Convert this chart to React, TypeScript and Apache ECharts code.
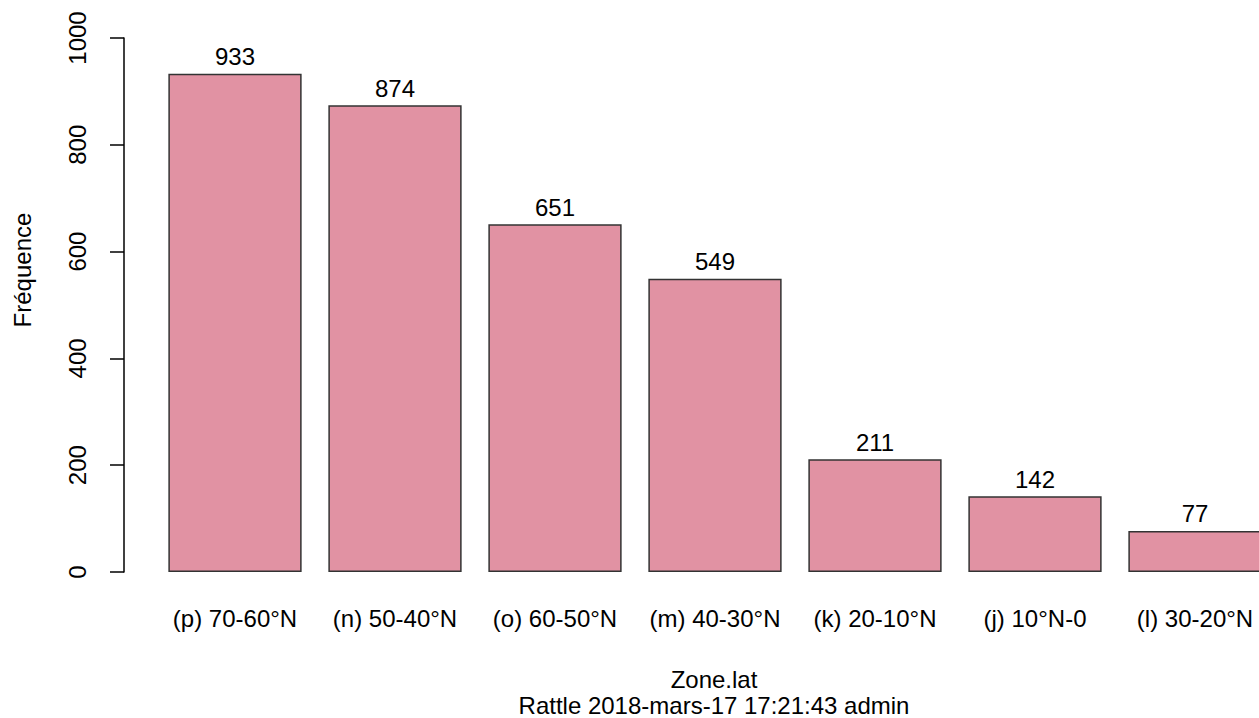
import React, { useEffect, useRef } from "react";
import * as echarts from "echarts";

const categories = [
  "(p) 70-60°N",
  "(n) 50-40°N",
  "(o) 60-50°N",
  "(m) 40-30°N",
  "(k) 20-10°N",
  "(j) 10°N-0",
  "(l) 30-20°N",
];
const frequencies = [933, 874, 651, 549, 211, 142, 77];
const yTicks = { min: 0, max: 1000, interval: 200 };
const xTitle = "Zone.lat";
const yTitle = "Fréquence";
const caption = "Rattle 2018-mars-17 17:21:43 admin";

const FONT = "'Liberation Sans', Arial, sans-serif";
const FS = 24;

export default function App() {
  const ref = useRef<HTMLDivElement>(null);
  useEffect(() => {
    if (!ref.current) return;
    const chart = echarts.init(ref.current, undefined, { renderer: "svg" });
    chart.setOption({
      animation: false,
      backgroundColor: "#ffffff",
      textStyle: { fontFamily: FONT },
      grid: {
        left: 155,
        width: 1120,
        top: 38,
        bottom: 146,
        containLabel: false,
        outerBoundsMode: "none",
      },
      xAxis: {
        type: "category",
        data: categories,
        axisLine: { show: false },
        axisTick: { show: false },
        axisLabel: {
          color: "#000",
          fontSize: FS,
          fontFamily: FONT,
          margin: 34,
          interval: 0,
        },
      },
      yAxis: {
        type: "value",
        min: yTicks.min,
        max: yTicks.max,
        interval: yTicks.interval,
        offset: 31,
        splitLine: { show: false },
        axisLine: { show: true, lineStyle: { color: "#000", width: 1.5 } },
        axisTick: { show: true, length: 14, lineStyle: { color: "#000", width: 1.5 } },
        axisLabel: {
          color: "#000",
          fontSize: FS,
          fontFamily: FONT,
          rotate: 90,
          margin: 35,
          formatter: (v: number) => String(v),
        },
      },
      graphic: [
        {
          type: "text",
          x: 22,
          y: 270,
          rotation: Math.PI / 2,
          style: {
            text: yTitle,
            fill: "#000",
            font: `${FS}px ${FONT}`,
            align: "center",
            verticalAlign: "middle",
          },
        },
        {
          type: "text",
          x: 714,
          y: 679,
          style: {
            text: xTitle,
            fill: "#000",
            font: `${FS}px ${FONT}`,
            align: "center",
            verticalAlign: "middle",
          },
        },
        {
          type: "text",
          x: 714,
          y: 705,
          style: {
            text: caption,
            fill: "#000",
            font: `${FS}px ${FONT}`,
            align: "center",
            verticalAlign: "middle",
          },
        },
      ],
      series: [
        {
          type: "bar",
          data: frequencies,
          barWidth: "83.3%",
          itemStyle: { color: "#E192A3", borderColor: "#333333", borderWidth: 1.5 },
          label: {
            show: true,
            position: "top",
            distance: 5,
            color: "#000",
            fontSize: FS,
            fontFamily: FONT,
          },
        },
      ],
    });
    return () => chart.dispose();
  }, []);
  return (
    <div
      ref={ref}
      style={{ position: "absolute", left: 0, top: 0, width: 1259, height: 718 }}
    />
  );
}
